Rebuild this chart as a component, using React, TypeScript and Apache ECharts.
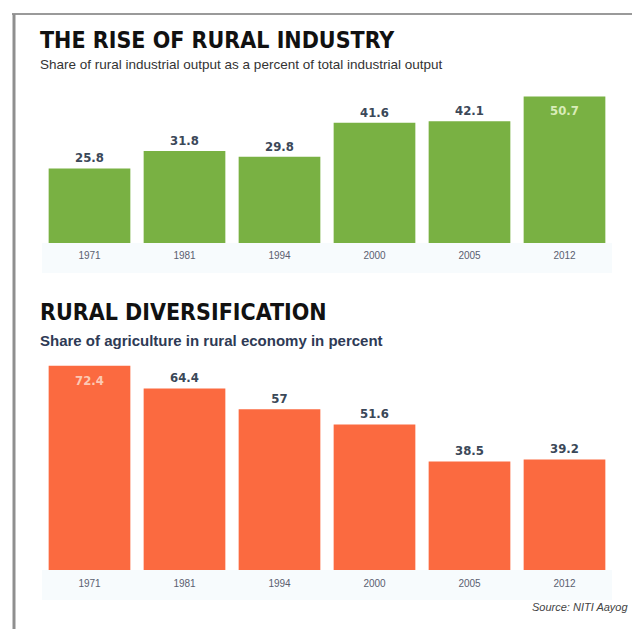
import React, { useEffect, useRef } from "react";
import * as echarts from "echarts";

const industryYears = ["1971", "1981", "1994", "2000", "2005", "2012"];
const industryShare = [25.8, 31.8, 29.8, 41.6, 42.1, 50.7];

const agriYears = ["1971", "1981", "1994", "2000", "2005", "2012"];
const agriShare = [72.4, 64.4, 57, 51.6, 38.5, 39.2];

const titleTop = "THE RISE OF RURAL INDUSTRY";
const subTop = "Share of rural industrial output as a percent of total industrial output";
const titleBottom = "RURAL DIVERSIFICATION";
const subBottom = "Share of agriculture in rural economy in percent";
const sourceText = "Source: NITI Aayog";

const GREEN = "#79b143";
const ORANGE = "#fb6a40";
const LABEL = "#3b4858";
const TITLE_FONT = "'Liberation Sans Narrow', 'DejaVu Sans Condensed', 'Liberation Sans', sans-serif";

export default function App() {
  const ref = useRef<HTMLDivElement>(null);
  useEffect(() => {
    if (!ref.current) return;
    const chart = echarts.init(ref.current, null, { renderer: "svg" });
    const labelBase = {
      show: true,
      position: "top",
      distance: 4,
      color: LABEL,
      fontSize: 13,
      fontWeight: "bold",
      fontFamily: TITLE_FONT,
    };
    const axisLabel = { color: "#5a6070", fontSize: 10, margin: 7, fontFamily: "Liberation Sans" };
    chart.setOption({
      animation: false,
      backgroundColor: "#ffffff",
      grid: [
        { left: 42, right: 20, top: 84, height: 159 },
        { left: 42, right: 20, top: 358.5, height: 211.5 },
      ],
      xAxis: [
        {
          type: "category",
          gridIndex: 0,
          data: industryYears,
          axisLine: { show: false },
          axisTick: { show: false },
          axisLabel,
        },
        {
          type: "category",
          gridIndex: 1,
          data: agriYears,
          axisLine: { show: false },
          axisTick: { show: false },
          axisLabel: { ...axisLabel, margin: 8 },
        },
      ],
      yAxis: [
        { type: "value", gridIndex: 0, min: 0, max: 55, show: false },
        { type: "value", gridIndex: 1, min: 0, max: 75, show: false },
      ],
      series: [
        {
          type: "bar",
          xAxisIndex: 0,
          yAxisIndex: 0,
          barWidth: "86%",
          itemStyle: { color: GREEN },
          label: labelBase,
          data: industryShare.map((v, i) =>
            i === industryShare.length - 1
              ? { value: v, label: { position: "insideTop", distance: 8, color: "#d8ecb8" } }
              : v
          ),
        },
        {
          type: "bar",
          xAxisIndex: 1,
          yAxisIndex: 1,
          barWidth: "86%",
          itemStyle: { color: ORANGE },
          label: labelBase,
          data: agriShare.map((v, i) =>
            i === 0
              ? { value: v, label: { position: "insideTop", distance: 8, color: "#fbc9b4" } }
              : v
          ),
        },
      ],
      graphic: [
        { type: "rect", z: -10, shape: { x: 42, y: 243, width: 570, height: 30 }, style: { fill: "#f7fbfd" } },
        { type: "rect", z: -10, shape: { x: 42, y: 570, width: 570, height: 30 }, style: { fill: "#f7fbfd" } },
        { type: "line", shape: { x1: 12, y1: 14, x2: 632, y2: 14 }, style: { stroke: "#9a9a9a", lineWidth: 2 } },
        { type: "line", shape: { x1: 14, y1: 14, x2: 14, y2: 629 }, style: { stroke: "#8f8f8f", lineWidth: 3 } },
        {
          type: "text",
          left: 40,
          top: 28,
          style: { text: titleTop, fill: "#111", font: `bold 23px ${TITLE_FONT}` },
        },
        {
          type: "text",
          left: 40,
          top: 57,
          style: { text: subTop, fill: "#333", font: "13.5px 'Liberation Sans', sans-serif" },
        },
        {
          type: "text",
          left: 40,
          top: 300,
          style: { text: titleBottom, fill: "#111", font: `bold 23px ${TITLE_FONT}` },
        },
        {
          type: "text",
          left: 40,
          top: 333,
          style: { text: subBottom, fill: "#2e3a55", font: "bold 15px 'Liberation Sans', sans-serif" },
        },
        {
          type: "text",
          right: 4,
          top: 601,
          style: { text: sourceText, fill: "#444", font: "italic 11px 'Liberation Sans', sans-serif" },
        },
      ],
    });
    return () => chart.dispose();
  }, []);
  return (
    <div
      ref={ref}
      style={{ position: "fixed", left: 0, top: 0, width: 632, height: 629 }}
    />
  );
}
